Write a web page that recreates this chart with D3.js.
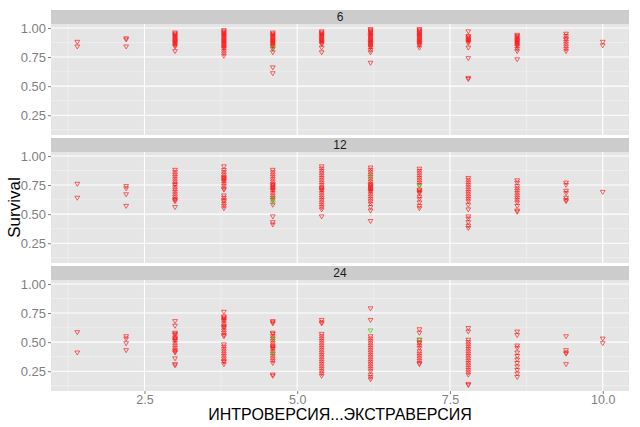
<!DOCTYPE html>
<html>
<head>
<meta charset="utf-8">
<script src="https://cdn.jsdelivr.net/npm/d3@7"></script>
<style>
  body { margin: 0; background: #fff; }
  text { font-family: "Liberation Sans", Arial, sans-serif; }
</style>
</head>
<body>
<div id="chart"></div>
<script>
// x levels shared by every panel
const xLevels = [1.4, 2.2, 3.0, 3.8, 4.6, 5.4, 6.2, 7.0, 7.8, 8.6, 9.4, 10.0];
const facets = ["6", "12", "24"];

// survival values per x level, red group
const surv6 = [
    [0.88, 0.84],
    [0.91, 0.90, 0.84],
    [0.96, 0.95, 0.94, 0.93, 0.92, 0.91, 0.90, 0.89, 0.88, 0.87, 0.86, 0.85, 0.84, 0.80],
    [0.98, 0.97, 0.96, 0.95, 0.94, 0.93, 0.92, 0.91, 0.90, 0.89, 0.88, 0.87, 0.86, 0.85, 0.84, 0.83, 0.82, 0.80, 0.78, 0.76],
    [0.96, 0.95, 0.94, 0.93, 0.92, 0.91, 0.90, 0.89, 0.88, 0.87, 0.86, 0.85, 0.84, 0.82, 0.79, 0.66, 0.61],
    [0.97, 0.96, 0.95, 0.94, 0.93, 0.92, 0.91, 0.90, 0.89, 0.88, 0.87, 0.86, 0.83, 0.79],
    [0.99, 0.98, 0.97, 0.96, 0.95, 0.94, 0.93, 0.92, 0.91, 0.90, 0.89, 0.88, 0.87, 0.86, 0.85, 0.84, 0.83, 0.81, 0.79, 0.70],
    [0.99, 0.98, 0.97, 0.96, 0.95, 0.94, 0.93, 0.92, 0.91, 0.90, 0.89, 0.88, 0.87, 0.86, 0.85, 0.83],
    [0.97, 0.93, 0.92, 0.91, 0.90, 0.89, 0.88, 0.87, 0.83, 0.74, 0.57, 0.56],
    [0.94, 0.93, 0.92, 0.91, 0.90, 0.89, 0.88, 0.87, 0.86, 0.85, 0.84, 0.82, 0.80, 0.73],
    [0.95, 0.93, 0.91, 0.90, 0.88, 0.86, 0.84, 0.82, 0.80],
    [0.88, 0.85]
];
const surv12 = [
    [0.76, 0.64],
    [0.74, 0.72, 0.67, 0.57],
    [0.88, 0.86, 0.84, 0.82, 0.80, 0.78, 0.76, 0.75, 0.73, 0.71, 0.69, 0.67, 0.65, 0.63, 0.62, 0.61, 0.56],
    [0.91, 0.88, 0.86, 0.84, 0.82, 0.81, 0.80, 0.79, 0.78, 0.76, 0.74, 0.72, 0.71, 0.66, 0.64, 0.62, 0.61, 0.59, 0.57, 0.55],
    [0.88, 0.86, 0.84, 0.82, 0.80, 0.78, 0.76, 0.75, 0.74, 0.73, 0.72, 0.71, 0.70, 0.68, 0.66, 0.64, 0.62, 0.58, 0.48, 0.43, 0.41],
    [0.91, 0.89, 0.87, 0.85, 0.83, 0.81, 0.79, 0.77, 0.75, 0.73, 0.72, 0.71, 0.70, 0.68, 0.66, 0.64, 0.62, 0.60, 0.58, 0.56, 0.54, 0.48],
    [0.90, 0.88, 0.86, 0.84, 0.82, 0.80, 0.78, 0.76, 0.75, 0.74, 0.73, 0.72, 0.71, 0.70, 0.69, 0.67, 0.65, 0.63, 0.61, 0.59, 0.56, 0.53, 0.44],
    [0.89, 0.87, 0.85, 0.83, 0.81, 0.79, 0.77, 0.75, 0.71, 0.70, 0.69, 0.68, 0.65, 0.63, 0.60, 0.57, 0.55],
    [0.81, 0.79, 0.77, 0.75, 0.73, 0.71, 0.69, 0.67, 0.65, 0.63, 0.61, 0.58, 0.54, 0.48, 0.46, 0.43, 0.40, 0.38],
    [0.79, 0.77, 0.74, 0.72, 0.70, 0.68, 0.66, 0.64, 0.62, 0.60, 0.57, 0.53, 0.52],
    [0.77, 0.75, 0.70, 0.68, 0.64, 0.62, 0.61],
    [0.69]
];
const surv24 = [
    [0.585, 0.41],
    [0.55, 0.53, 0.49, 0.43],
    [0.68, 0.64, 0.58, 0.57, 0.56, 0.54, 0.53, 0.52, 0.51, 0.49, 0.47, 0.45, 0.43, 0.42, 0.41, 0.36, 0.31, 0.30],
    [0.76, 0.72, 0.71, 0.70, 0.69, 0.68, 0.66, 0.64, 0.63, 0.62, 0.60, 0.58, 0.56, 0.55, 0.48, 0.46, 0.44, 0.42, 0.40, 0.38, 0.36, 0.34, 0.33, 0.31],
    [0.68, 0.67, 0.66, 0.58, 0.57, 0.55, 0.53, 0.51, 0.49, 0.47, 0.46, 0.45, 0.44, 0.42, 0.40, 0.38, 0.36, 0.34, 0.32, 0.22, 0.21],
    [0.69, 0.67, 0.66, 0.57, 0.55, 0.53, 0.51, 0.49, 0.47, 0.45, 0.43, 0.41, 0.39, 0.37, 0.35, 0.33, 0.31, 0.29, 0.27, 0.25, 0.23, 0.21],
    [0.79, 0.69, 0.55, 0.53, 0.51, 0.49, 0.47, 0.45, 0.43, 0.41, 0.39, 0.37, 0.35, 0.33, 0.31, 0.29, 0.27, 0.25, 0.22, 0.20, 0.18],
    [0.61, 0.58, 0.52, 0.50, 0.49, 0.47, 0.45, 0.42, 0.40, 0.38, 0.36, 0.34, 0.32, 0.31],
    [0.62, 0.59, 0.52, 0.50, 0.48, 0.46, 0.44, 0.42, 0.40, 0.38, 0.36, 0.34, 0.32, 0.30, 0.28, 0.26, 0.24, 0.22, 0.14, 0.13],
    [0.59, 0.56, 0.47, 0.45, 0.41, 0.38, 0.35, 0.32, 0.29, 0.26, 0.23, 0.20],
    [0.55, 0.43, 0.41, 0.40, 0.31],
    [0.53, 0.49]
];

// green group: [x, survival]
const green6 = [[4.6, 0.83]];
const green12 = [[4.6, 0.63], [4.6, 0.60], [6.2, 0.82], [7.0, 0.74]];
const green24 = [[4.6, 0.53], [4.6, 0.40], [6.2, 0.60], [7.0, 0.52]];

const xTicks = [2.5, 5.0, 7.5, 10.0];
const xMinor = [1.25, 3.75, 6.25, 8.75];
const yTicks = [0.25, 0.50, 0.75, 1.00];
const yMinor = [0.125, 0.375, 0.625, 0.875];

const redSets = [surv6, surv12, surv24];
const greenSets = [green6, green12, green24];

const W = 640, H = 427;
const left = 51, right = 629;
const stripH = 14, panelH = 111, gap = 3, top0 = 10;

const svg = d3.select("#chart").append("svg")
    .attr("width", W)
    .attr("height", H);

const x = d3.scaleLinear().domain([0.97, 10.43]).range([left, right]);

const tri = "M-2.4,-1.6L2.4,-1.6L0,2.4Z";

facets.forEach((f, i) => {
    const stripTop = top0 + i * (stripH + panelH + gap);
    const pTop = stripTop + stripH;
    const pBot = pTop + panelH;
    const y = d3.scaleLinear().domain([0.08, 1.034]).range([pBot, pTop]);

    // strip
    svg.append("rect")
        .attr("x", left).attr("y", stripTop)
        .attr("width", right - left).attr("height", stripH)
        .attr("fill", "#cccccc");
    svg.append("text")
        .attr("x", (left + right) / 2).attr("y", stripTop + stripH / 2 + 4)
        .attr("text-anchor", "middle")
        .style("font-size", "12px")
        .attr("fill", "#1a1a1a")
        .text(f);

    // panel
    svg.append("rect")
        .attr("x", left).attr("y", pTop)
        .attr("width", right - left).attr("height", panelH)
        .attr("fill", "#e5e5e5");

    const g = svg.append("g");
    g.selectAll(".xminor").data(xMinor).enter().append("line")
        .attr("x1", d => x(d)).attr("x2", d => x(d))
        .attr("y1", pTop).attr("y2", pBot)
        .attr("stroke", "#f2f2f2").attr("stroke-width", 0.6);
    g.selectAll(".yminor").data(yMinor).enter().append("line")
        .attr("x1", left).attr("x2", right)
        .attr("y1", d => y(d)).attr("y2", d => y(d))
        .attr("stroke", "#f2f2f2").attr("stroke-width", 0.6);
    g.selectAll(".xmajor").data(xTicks).enter().append("line")
        .attr("x1", d => x(d)).attr("x2", d => x(d))
        .attr("y1", pTop).attr("y2", pBot)
        .attr("stroke", "#ffffff").attr("stroke-width", 1.1);
    g.selectAll(".ymajor").data(yTicks).enter().append("line")
        .attr("x1", left).attr("x2", right)
        .attr("y1", d => y(d)).attr("y2", d => y(d))
        .attr("stroke", "#ffffff").attr("stroke-width", 1.1);

    // y axis
    const ya = svg.append("g")
        .attr("transform", `translate(${left},0)`)
        .call(d3.axisLeft(y).tickValues(yTicks).tickFormat(d3.format(".2f")).tickSize(3).tickPadding(2));
    ya.select(".domain").remove();
    ya.selectAll("line").attr("stroke", "#7f7f7f");
    ya.selectAll("text").attr("fill", "#7f7f7f").style("font-size", "13px")
        .style("font-family", "Liberation Sans, Arial, sans-serif");

    // points
    const pts = [];
    redSets[i].forEach((vals, k) => vals.forEach(v => pts.push({ x: xLevels[k], y: v })));
    svg.append("g").selectAll("path.red").data(pts).enter().append("path")
        .attr("d", tri)
        .attr("transform", d => `translate(${x(d.x)},${y(d.y)})`)
        .attr("fill", "none")
        .attr("stroke", "#ff0000")
        .attr("stroke-opacity", 0.7)
        .attr("stroke-width", 0.85);
    svg.append("g").selectAll("path.green").data(greenSets[i]).enter().append("path")
        .attr("d", tri)
        .attr("transform", d => `translate(${x(d[0])},${y(d[1])})`)
        .attr("fill", "none")
        .attr("stroke", "#33cc00")
        .attr("stroke-opacity", 0.75)
        .attr("stroke-width", 0.85);

    if (i === facets.length - 1) {
        const xa = svg.append("g")
            .attr("transform", `translate(0,${pBot})`)
            .call(d3.axisBottom(x).tickValues(xTicks).tickFormat(d3.format(".1f")).tickSize(3).tickPadding(1));
        xa.select(".domain").remove();
        xa.selectAll("line").attr("stroke", "#7f7f7f");
        xa.selectAll("text").attr("fill", "#7f7f7f").style("font-size", "12.5px")
            .style("font-family", "Liberation Sans, Arial, sans-serif");
    }
});

// axis titles
svg.append("text")
    .attr("x", (left + right) / 2).attr("y", 420)
    .attr("text-anchor", "middle")
    .style("font-size", "16px")
    .attr("fill", "#000")
    .text("ИНТРОВЕРСИЯ...ЭКСТРАВЕРСИЯ");

svg.append("text")
    .attr("transform", `translate(20,${(top0 + stripH + 3 * (stripH + panelH + gap) - gap) / 2 + 5}) rotate(-90)`)
    .attr("text-anchor", "middle")
    .style("font-size", "17px")
    .attr("fill", "#000")
    .text("Survival");
</script>
</body>
</html>
